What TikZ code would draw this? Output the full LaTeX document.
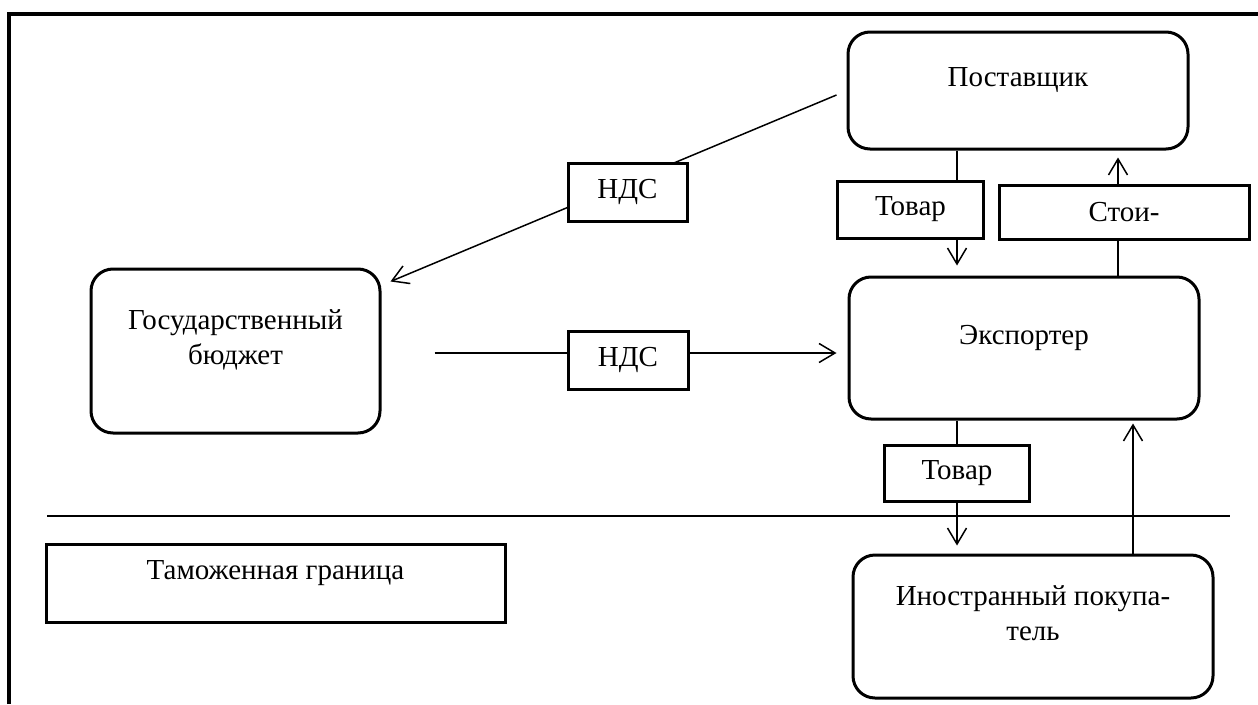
\documentclass[tikz,border=0pt]{standalone}
\usepackage{fontspec}
\setmainfont{Liberation Serif}
\usetikzlibrary{arrows.meta, calc, backgrounds}

\begin{document}
\begin{tikzpicture}[x=1pt, y=-1pt,
  font=\fontsize{29}{35}\selectfont,
  block/.style={draw, line width=3pt, rounded corners=22pt, fill=white,
    align=center, inner sep=0pt, text depth=27pt},
  tag/.style={draw, line width=3pt, fill=white, inner sep=0pt},
  flow/.style={line width=1.5pt, -{Straight Barb[length=16pt, width=19pt]}}]
  \useasboundingbox (0,0) rectangle (1258,704);
  % frame
  \draw[line width=3.6pt] (9,704) -- (9,14) -- (1258,14);

  \node[block, minimum width=340pt, minimum height=117pt] (post)  at (1018,90.5) {Поставщик};
  \node[block, minimum width=350pt, minimum height=142pt] (exp)   at (1024,348)  {Экспортер};
  \node[block, minimum width=289pt, minimum height=164pt] (gos)   at (235.5,351) {Государственный\\бюджет};
  \node[block, minimum width=360pt, minimum height=143pt] (buyer) at (1033,626.5) {Иностранный покупа-\\тель};

  \node[tag, minimum width=146pt, minimum height=57pt] (good1)  at (910.5,209.5) {Товар};
  \node[tag, minimum width=250pt, minimum height=54pt] (cost)   at (1124,212)    {Стои-};
  \node[tag, minimum width=119pt, minimum height=58pt] (vat1)   at (627.5,192)   {НДС};
  \node[tag, minimum width=120pt, minimum height=58pt] (vat2)   at (628,360)     {НДС};
  \node[tag, minimum width=145pt, minimum height=56pt] (good2)  at (957,473)     {Товар};
  \node[tag, minimum width=459pt, minimum height=78pt, text depth=27pt] (border) at (275.5,583) {Таможенная граница};

  \begin{scope}[on background layer]
    \coordinate (vs) at ($(post.west)+(-10,4.5)$);
    \coordinate (ve) at ($(gos.north east)+(9,14)$);
    \draw[flow] (vs) -- (ve);
    \coordinate (hs) at ($(gos.east)+(53,2)$);
    \coordinate (he) at ($(exp.west)+(-11,5)$);
    \draw[flow] (hs) -- (he);
    \draw[flow] ($(post.south)+(-61,0)$) -- ($(exp.north)+(-67,-10)$);
    \draw[flow] ($(exp.north)+(94,6)$) -- ($(post.south)+(100,7)$);
    \draw[flow] ($(exp.south)+(-67,0)$) -- ($(buyer.north)+(-76,-8)$);
    \draw[flow] ($(buyer.north)+(100,0)$) -- ($(exp.south)+(109,3)$);
  \end{scope}
  % border line
  \draw[line width=1.5pt] (47,516) -- (1230,516);
\end{tikzpicture}
\end{document}
